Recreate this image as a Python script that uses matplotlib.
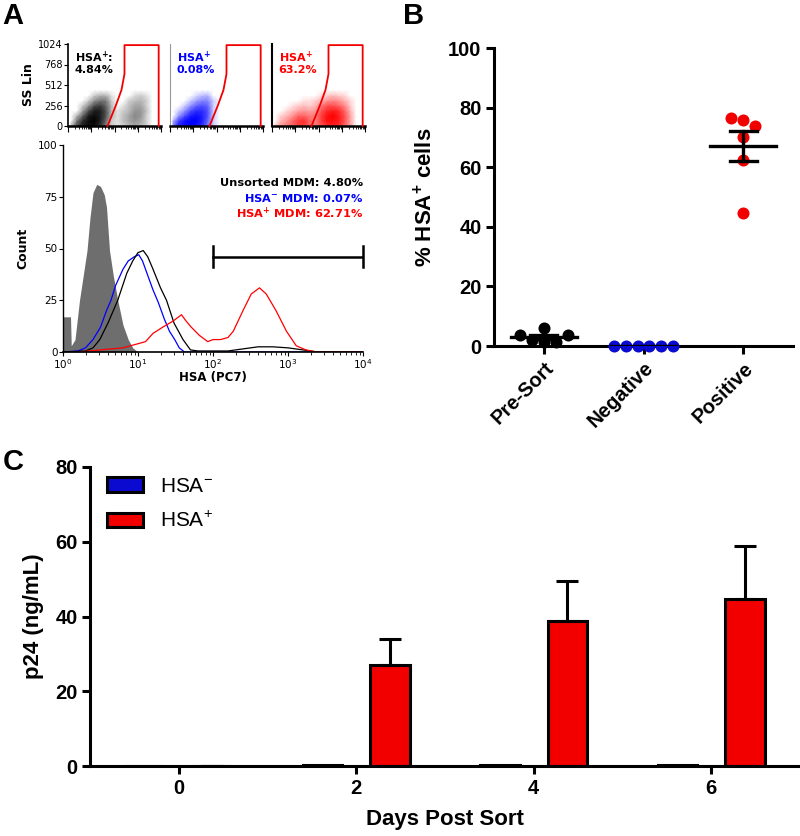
import numpy as np
import matplotlib
matplotlib.use("Agg")
import matplotlib.pyplot as plt
from matplotlib.colors import LinearSegmentedColormap, PowerNorm

plt.rcParams['font.family'] = ['Liberation Sans', 'DejaVu Sans']
plt.rcParams['mathtext.default'] = 'regular'

# ---------------- data ----------------
# panel A, dot plots: density of events per cell (cols: 0.25 decade HSA, rows: 64 SS units)
dens_unsorted = [
    [0.10, 0.50, 0.80, 0.90, 0.90, 0.70, 0.30, 0.05, 0.02, 0.05, 0.10, 0.15, 0.10, 0.05, 0, 0],
    [0.00, 0.30, 0.70, 0.90, 1.00, 0.80, 0.40, 0.05, 0.02, 0.08, 0.15, 0.20, 0.15, 0.05, 0, 0],
    [0.00, 0.10, 0.40, 0.80, 0.90, 0.80, 0.50, 0.10, 0.02, 0.08, 0.15, 0.25, 0.20, 0.05, 0, 0],
    [0.00, 0.00, 0.15, 0.50, 0.80, 0.80, 0.50, 0.10, 0.02, 0.05, 0.10, 0.20, 0.20, 0.08, 0, 0],
    [0.00, 0.00, 0.05, 0.20, 0.50, 0.60, 0.40, 0.10, 0.00, 0.02, 0.08, 0.15, 0.15, 0.05, 0, 0],
    [0.00, 0.00, 0.00, 0.05, 0.20, 0.30, 0.30, 0.05, 0.00, 0.00, 0.05, 0.08, 0.10, 0.05, 0, 0],
    [0.00, 0.00, 0.00, 0.00, 0.05, 0.10, 0.10, 0.02, 0.00, 0.00, 0.00, 0.03, 0.05, 0.02, 0, 0],
    [0.00, 0.00, 0.00, 0.00, 0.00, 0.00, 0.00, 0.00, 0.00, 0.00, 0.00, 0.00, 0.00, 0.00, 0, 0],
]
dens_negative = [
    [0.30, 0.80, 0.90, 1.00, 0.90, 0.70, 0.30, 0.05, 0, 0, 0, 0, 0, 0, 0, 0],
    [0.10, 0.60, 0.90, 1.00, 1.00, 0.80, 0.40, 0.05, 0, 0, 0, 0, 0, 0, 0, 0],
    [0.00, 0.20, 0.50, 0.80, 0.90, 0.80, 0.50, 0.05, 0, 0, 0, 0, 0, 0, 0, 0],
    [0.00, 0.05, 0.20, 0.50, 0.70, 0.70, 0.50, 0.05, 0, 0, 0, 0, 0, 0, 0, 0],
    [0.00, 0.00, 0.05, 0.20, 0.40, 0.50, 0.40, 0.05, 0, 0, 0, 0, 0, 0, 0, 0],
    [0.00, 0.00, 0.00, 0.05, 0.15, 0.25, 0.25, 0.05, 0, 0, 0, 0, 0, 0, 0, 0],
    [0.00, 0.00, 0.00, 0.00, 0.03, 0.08, 0.10, 0.00, 0, 0, 0, 0, 0, 0, 0, 0],
    [0.00, 0.00, 0.00, 0.00, 0.00, 0.00, 0.00, 0.00, 0, 0, 0, 0, 0, 0, 0, 0],
]
dens_positive = [
    [0.05, 0.20, 0.30, 0.40, 0.60, 0.60, 0.40, 0.30, 0.50, 0.70, 0.80, 0.70, 0.40, 0.15, 0, 0],
    [0.00, 0.10, 0.20, 0.40, 0.60, 0.70, 0.40, 0.30, 0.60, 0.90, 0.90, 0.80, 0.50, 0.15, 0, 0],
    [0.00, 0.05, 0.10, 0.20, 0.40, 0.40, 0.30, 0.30, 0.60, 0.90, 1.00, 0.80, 0.50, 0.15, 0, 0],
    [0.00, 0.00, 0.03, 0.08, 0.15, 0.20, 0.15, 0.20, 0.50, 0.70, 0.80, 0.70, 0.40, 0.10, 0, 0],
    [0.00, 0.00, 0.00, 0.02, 0.05, 0.08, 0.05, 0.10, 0.30, 0.50, 0.50, 0.40, 0.25, 0.05, 0, 0],
    [0.00, 0.00, 0.00, 0.00, 0.00, 0.02, 0.02, 0.05, 0.10, 0.20, 0.25, 0.20, 0.10, 0.03, 0, 0],
    [0.00, 0.00, 0.00, 0.00, 0.00, 0.00, 0.00, 0.00, 0.03, 0.05, 0.08, 0.05, 0.03, 0.00, 0, 0],
    [0.00, 0.00, 0.00, 0.00, 0.00, 0.00, 0.00, 0.00, 0.00, 0.00, 0.00, 0.00, 0.00, 0.00, 0, 0],
]
dot_labels = ["HSA$^{+}$:\n4.84%", "HSA$^{+}$\n0.08%", "HSA$^{+}$\n63.2%"]
gate_dec = [1.70, 2.05, 2.30, 2.43, 2.43, 3.90, 3.90]
gate_ss = [0, 250, 450, 650, 1010, 1010, 0]

# panel A, histograms (log10 HSA, count)
iso_log = [0.0, 0.10, 0.11, 0.16, 0.22, 0.27, 0.32, 0.36, 0.40, 0.45, 0.50, 0.55, 0.58,
           0.62, 0.67, 0.73, 0.80, 0.87, 0.93, 1.0]
iso_cnt = [17, 17, 3, 6, 25, 37, 49, 65, 77, 81, 80, 76, 70, 49, 37, 25, 13, 6, 2, 0]
neg_log = [0.0, 0.2, 0.3, 0.4, 0.5, 0.58, 0.64, 0.7, 0.8, 0.87, 0.95, 1.01, 1.06, 1.12,
           1.2, 1.27, 1.35, 1.42, 1.49, 1.55, 1.62, 4.0]
neg_cnt = [0, 0.5, 2, 6, 12, 20, 25, 32, 40, 44, 46, 47, 44, 38, 30, 24, 16, 10, 6, 2, 0, 0]
uns_log = [0.0, 0.3, 0.4, 0.49, 0.6, 0.73, 0.85, 0.93, 1.0, 1.07, 1.13, 1.2, 1.3, 1.38,
           1.48, 1.6, 1.7, 1.8, 2.2, 2.4, 2.5, 2.6, 2.8, 3.0, 3.2, 3.4, 4.0]
uns_cnt = [0, 0.5, 2, 6, 14, 25, 38, 44, 48, 49, 46, 40, 31, 25, 14, 6, 1, 0.5, 0.5, 1.5,
           2, 2.5, 2.5, 2, 1, 0, 0]
pos_log = [0.2, 0.5, 0.8, 1.0, 1.1, 1.2, 1.33, 1.47, 1.58, 1.64, 1.71, 1.82, 1.93, 2.0,
           2.1, 2.2, 2.27, 2.4, 2.51, 2.62, 2.71, 2.84, 2.98, 3.11, 3.24, 3.38, 4.0]
pos_cnt = [0, 1, 2, 4, 5, 9, 12, 15, 18, 15, 12, 8, 5, 6, 6, 7, 10, 20, 28, 31, 28, 20,
           10, 3, 1, 0, 0]
hist_texts = ["Unsorted MDM: 4.80%", "HSA$^{-}$ MDM: 0.07%", "HSA$^{+}$ MDM: 62.71%"]

# panel B
groups = ["Pre-Sort", "Negative", "Positive"]
pct_presort = [1.3, 3.7, 2.0, 3.7, 6.0, 1.3]
pct_negative = [0, 0, 0, 0, 0, 0]
pct_positive = [76.5, 75.8, 73.8, 70.2, 62.4, 44.6]

# panel C
days = [0, 2, 4, 6]
p24_neg = [0, 0.3, 0.3, 0.3]
p24_pos = [0, 27.0, 38.8, 44.7]
p24_pos_err = [0, 7.0, 10.7, 14.2]

RED = '#f20000'
BLUE = '#0a0ad0'

fig = plt.figure(figsize=(8, 8.36), dpi=100)

# ---------------- panel A: dot plots ----------------
def dec_minor():
    return [d + np.log10(k) for d in range(4) for k in range(2, 10)]

dot_cols = [('black', '#000000'), ('blue', '#0000ff'), ('red', '#ff0000')]
dot_left = [68, 170, 272]
for i, dens in enumerate([dens_unsorted, dens_negative, dens_positive]):
    ax = fig.add_axes([dot_left[i] / 800, 1 - 126 / 836, 93 / 800, 82 / 836])
    d = np.array(dens)
    xs = np.arange(d.shape[1]) * 0.25 + 0.125
    ys = np.arange(d.shape[0]) * 64.0
    cmap = LinearSegmentedColormap.from_list('c', ['white', dot_cols[i][1]])
    ax.pcolormesh(xs, ys, d, shading='gouraud', cmap=cmap,
                  norm=PowerNorm(gamma=0.55, vmin=0, vmax=1))
    ax.plot(gate_dec, gate_ss, color=RED, lw=1.3, zorder=5, clip_on=False)
    ax.set_xlim(0, 4)
    ax.set_ylim(0, 1024)
    for s in ['top', 'right']:
        ax.spines[s].set_visible(False)
    ax.spines['bottom'].set_linewidth(1.8)
    ax.set_xticks([0, 1, 2, 3, 4])
    ax.set_xticks(dec_minor(), minor=True)
    ax.set_xticklabels([])
    ax.tick_params(axis='x', which='major', length=4, width=0.8)
    ax.tick_params(axis='x', which='minor', length=2.5, width=0.6)
    if i == 0:
        ax.set_yticks([0, 256, 512, 768, 1024])
        ax.tick_params(axis='y', labelsize=7, length=3, width=0.8, pad=1)
        for t in ax.get_yticklabels():
            t.set_family('DejaVu Sans')
        ax.set_ylabel('SS Lin', fontsize=9, fontweight='bold', family='DejaVu Sans', labelpad=2)
        ax.spines['left'].set_linewidth(1.2)
    else:
        ax.set_yticks([])
        if i == 1:
            ax.spines['left'].set_color('#999999')
            ax.spines['left'].set_linewidth(0.8)
        else:
            ax.spines['left'].set_linewidth(1.5)
    ax.text(0.07, 0.93, dot_labels[i], transform=ax.transAxes, ha='left', va='top',
            fontsize=8, fontweight='bold', color=dot_cols[i][0], family='DejaVu Sans',
            linespacing=1.0)

# ---------------- panel A: histogram ----------------
axh = fig.add_axes([63 / 800, 1 - 352 / 836, 300 / 800, 207 / 836])
axh.fill_between(10 ** np.array(iso_log), iso_cnt, color='#6e6e6e', lw=0)
axh.plot(10 ** np.array(neg_log), neg_cnt, color='#0000ff', lw=0.9)
axh.plot(10 ** np.array(uns_log), uns_cnt, color='black', lw=0.9)
axh.plot(10 ** np.array(pos_log), pos_cnt, color='#ff0000', lw=0.9)
axh.plot([100, 1e4], [46, 46], color='black', lw=1.8)
axh.plot([100, 100], [41, 51], color='black', lw=1.8)
axh.plot([1e4, 1e4], [41, 51], color='black', lw=1.8, clip_on=False)
axh.set_xscale('log')
axh.set_xlim(1, 1e4)
axh.set_ylim(0, 100)
axh.set_yticks([0, 25, 50, 75, 100])
for s in ['top', 'right']:
    axh.spines[s].set_visible(False)
axh.spines['bottom'].set_linewidth(1.2)
axh.spines['left'].set_linewidth(1.0)
axh.tick_params(labelsize=7.5, length=3, width=0.8, pad=1)
axh.tick_params(which='minor', length=2, width=0.6)
for t in axh.get_xticklabels() + axh.get_yticklabels():
    t.set_family('DejaVu Sans')
axh.set_ylabel('Count', fontsize=9, fontweight='bold', family='DejaVu Sans', labelpad=6)
axh.set_xlabel('HSA (PC7)', fontsize=8.5, fontweight='bold', family='DejaVu Sans', labelpad=0)
for txt, col, yy in zip(hist_texts, ['black', '#0000ff', '#ff0000'], [0.816, 0.744, 0.672]):
    axh.text(1.0, yy, txt, transform=axh.transAxes, ha='right', va='center', fontsize=8.2,
             fontweight='bold', color=col, family='DejaVu Sans')

# ---------------- panel B ----------------
def swarm(vals, d=0.12, ypx=0.0298):
    order = np.argsort(vals, kind='stable')
    placed = []
    offs = np.zeros(len(vals))
    for idx in order:
        v = vals[idx]
        cands = [0]
        for k in range(1, 10):
            cands += [k * d, -k * d]
        for c in cands:
            if all(np.hypot(c - o, (v - pv) * ypx) >= d * 0.99 for o, pv in placed):
                offs[idx] = c
                placed.append((c, v))
                break
    return offs - (offs.min() + offs.max()) / 2

axb = fig.add_axes([494 / 800, 1 - 346 / 836, 299 / 800, 298 / 836])
for gi, (vals, col) in enumerate(zip([pct_presort, pct_negative, pct_positive],
                                     ['black', BLUE, RED])):
    vals = np.array(vals, dtype=float)
    offs = swarm(vals)
    axb.scatter(gi + offs, vals, s=75, color=col, zorder=3, clip_on=False, lw=0)
    m = vals.mean()
    sem = vals.std(ddof=1) / np.sqrt(len(vals))
    axb.plot([gi - 0.33, gi + 0.33], [m, m], color='black', lw=2.4, zorder=4)
    if sem > 0:
        axb.plot([gi, gi], [m - sem, m + sem], color='black', lw=2.4, zorder=4)
        for yy in [m - sem, m + sem]:
            axb.plot([gi - 0.135, gi + 0.135], [yy, yy], color='black', lw=2.4, zorder=4)
axb.set_xlim(-0.5, 2.5)
axb.set_ylim(0, 100)
axb.set_yticks([0, 20, 40, 60, 80, 100])
axb.set_xticks(range(3))
axb.set_xticklabels(groups, rotation=45, ha='right', rotation_mode='anchor')
for s in ['top', 'right']:
    axb.spines[s].set_visible(False)
for s in ['left', 'bottom']:
    axb.spines[s].set_linewidth(2.2)
axb.tick_params(length=6, width=2.2, labelsize=14.5, pad=3)
for t in axb.get_xticklabels() + axb.get_yticklabels():
    t.set_fontweight('bold')
axb.set_ylabel('% HSA$^{+}$ cells', fontsize=16, fontweight='bold', labelpad=8)

# ---------------- panel C ----------------
axc = fig.add_axes([90 / 800, 1 - 766 / 836, 710 / 800, 299 / 836])
dx = np.array(days, dtype=float)
w = 0.45
axc.bar(dx - 0.38, p24_neg, width=w, color=BLUE, edgecolor='black', lw=2.2, label='HSA$^{-}$')
axc.bar(dx + 0.38, p24_pos, width=w, color=RED, edgecolor='black', lw=2.2, label='HSA$^{+}$',
        yerr=[np.zeros(len(days)), p24_pos_err], capsize=8,
        error_kw=dict(elinewidth=2.2, capthick=2.2, ecolor='black'))
axc.set_xlim(-1, 7)
axc.set_ylim(0, 80)
axc.set_xticks(days)
axc.set_yticks([0, 20, 40, 60, 80])
for s in ['top', 'right']:
    axc.spines[s].set_visible(False)
for s in ['left', 'bottom']:
    axc.spines[s].set_linewidth(2.2)
axc.tick_params(length=6, width=2.2, labelsize=14.5, pad=3)
for t in axc.get_xticklabels() + axc.get_yticklabels():
    t.set_fontweight('bold')
axc.set_ylabel('p24 (ng/mL)', fontsize=16, fontweight='bold', labelpad=8)
axc.set_xlabel('Days Post Sort', fontsize=16, fontweight='bold', labelpad=8)
axc.legend(loc='upper left', bbox_to_anchor=(0.024, 0.968), frameon=False, fontsize=15,
           handlelength=1.75, handleheight=0.7, labelspacing=0.75, handletextpad=0.8,
           borderpad=0, borderaxespad=0)

# panel letters
fig.text(0.003, 1 - 2 / 836, 'A', fontsize=21, fontweight='bold', va='top')
fig.text(403 / 800, 1 - 2 / 836, 'B', fontsize=21, fontweight='bold', va='top')
fig.text(0.003, 1 - 448 / 836, 'C', fontsize=21, fontweight='bold', va='top')

fig.savefig('out.png', dpi=100)
